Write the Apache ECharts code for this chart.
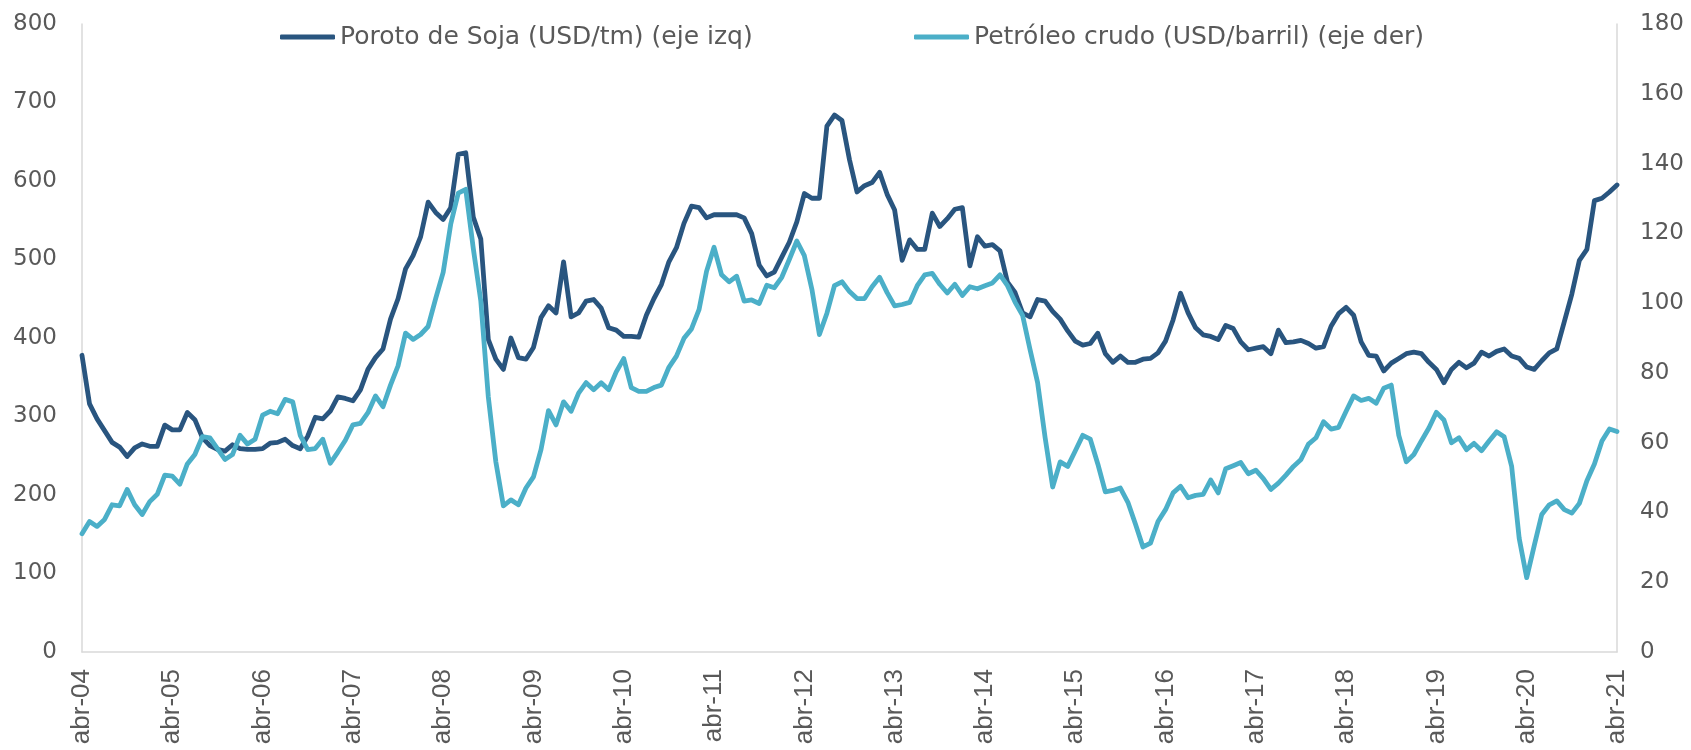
<!DOCTYPE html>
<html>
<head>
<meta charset="utf-8">
<script src="https://cdn.jsdelivr.net/npm/echarts@6/dist/echarts.min.js"></script>
<style>
html,body{margin:0;padding:0;background:#fff;}
#chart{width:1691px;height:750px;}
</style>
</head>
<body>
<div id="chart"></div>
<script>
// Month abbreviations (Spanish) and year span of the series: abr-04 .. abr-21
const monthNames = ['ene','feb','mar','abr','may','jun','jul','ago','sep','oct','nov','dic'];
const startYear = 2004, startMonth = 3, nPoints = 205;

// Poroto de Soja (USD/tm), left axis
const soja = [
  378,316,297,282,267,261,249,260,265,262,262,289,
  283,283,305,296,273,263,258,256,264,259,258,258,
  259,266,267,271,263,259,275,299,297,307,325,323,
  320,334,360,375,386,424,450,488,505,529,573,560,
  551,566,634,636,554,526,398,373,360,400,375,373,
  388,426,441,432,497,427,432,447,449,438,413,410,
  402,402,401,429,450,468,497,515,546,568,566,553,
  557,557,557,557,553,533,493,479,484,503,522,548,
  584,578,578,670,684,677,627,586,594,598,611,583,
  563,499,525,513,513,559,542,552,564,566,492,529,
  517,519,511,471,458,432,427,449,447,434,424,409,
  396,391,393,406,380,369,377,369,369,373,374,381,
  396,423,457,432,413,404,402,398,416,412,395,385,
  387,389,380,410,394,395,397,393,387,389,415,431,
  439,429,395,378,377,358,368,374,380,382,380,369,
  360,343,360,369,362,368,382,377,383,386,377,374,
  363,360,371,381,386,421,456,499,513,575,578,586,
  595
];

// Petróleo crudo (USD/barril), right axis
const petroleo = [
  33.9,37.4,36.0,38.0,42.2,41.9,46.6,42.2,39.4,43.1,45.2,50.7,
  50.4,48.1,53.9,56.6,61.7,61.4,58.3,55.2,56.6,62.1,59.6,61.0,
  67.9,69.0,68.3,72.4,71.7,62.1,58.0,58.3,61.0,54.1,57.3,60.7,
  65.1,65.5,68.6,73.4,70.3,76.5,82.0,91.4,89.6,91.0,93.3,101.3,
  108.8,122.6,131.5,132.6,115.7,100.6,73.1,54.5,41.9,43.6,42.2,47.0,
  50.2,58.0,69.2,65.1,71.7,69.0,74.2,77.2,75.2,77.2,75.2,80.3,
  84.1,75.8,74.7,74.7,75.8,76.5,81.6,84.8,89.9,92.6,98.1,109.1,
  116.0,108.1,106.1,107.7,100.6,100.9,99.9,105.1,104.4,107.4,112.5,117.8,
  113.6,104.0,91.0,97.1,105.0,106.1,103.3,101.3,101.3,104.7,107.4,103.0,
  99.2,99.6,100.2,105.0,108.1,108.5,105.4,102.9,105.4,102.2,104.7,104.1,
  105.0,105.8,108.1,105.0,100.3,96.5,86.6,77.2,61.4,47.3,54.5,53.2,
  57.6,62.1,61.0,53.9,45.9,46.3,47.0,42.9,36.7,30.1,31.2,37.4,
  40.8,45.6,47.5,44.2,44.9,45.2,49.3,45.6,52.5,53.4,54.3,51.1,
  52.1,49.7,46.6,48.4,50.7,53.2,55.2,59.6,61.4,66.0,63.9,64.4,
  69.0,73.4,72.1,72.7,71.3,75.6,76.5,62.1,54.5,56.6,60.5,64.2,
  68.7,66.5,60.0,61.4,58.0,59.8,57.7,60.5,63.1,61.7,53.2,32.6,
  21.3,30.5,39.4,42.2,43.3,40.8,39.8,42.6,49.1,53.9,60.5,63.9,
  63.2
];

const seriesNames = ['Poroto de Soja (USD/tm) (eje izq)', 'Petróleo crudo (USD/barril) (eje der)'];
const leftTicks = {min:0, max:800, interval:100};
const rightTicks = {min:0, max:180, interval:20};

const categories = [];
for (let i = 0; i < nPoints; i++) {
  const m = (startMonth + i) % 12;
  const y = startYear + Math.floor((startMonth + i) / 12);
  categories.push(monthNames[m] + '-' + String(y % 100).padStart(2, '0'));
}

const colDark = '#29557F';
const colLight = '#4BAFC8';
const txt = '#595959';
const axisCol = '#D9D9D9';

const chart = echarts.init(document.getElementById('chart'), null, {renderer:'canvas'});
chart.setOption({
  animation: false,
  backgroundColor: '#ffffff',
  grid: {left: 82, right: 74, top: 24, bottom: 98, containLabel: false},
  legend: [
    {
      data: [seriesNames[0]], left: 280, top: 22, padding: 0,
      icon: 'roundRect', itemWidth: 55, itemHeight: 5,
      textStyle: {fontFamily: 'DejaVu Sans', fontSize: 25, color: txt, lineHeight: 30}
    },
    {
      data: [seriesNames[1]], left: 914, top: 22, padding: 0,
      icon: 'roundRect', itemWidth: 55, itemHeight: 5,
      textStyle: {fontFamily: 'DejaVu Sans', fontSize: 25, color: txt, lineHeight: 30}
    }
  ],
  xAxis: {
    type: 'category',
    data: categories,
    boundaryGap: false,
    axisLine: {show: true, lineStyle: {color: axisCol, width: 1.5}},
    axisTick: {show: false},
    axisLabel: {
      rotate: 90,
      interval: function (i) { return i % 12 === 0; },
      margin: 17,
      fontFamily: 'Liberation Sans',
      fontSize: 26,
      color: txt
    },
    splitLine: {show: false}
  },
  yAxis: [
    {
      type: 'value', position: 'left',
      min: leftTicks.min, max: leftTicks.max, interval: leftTicks.interval,
      axisLine: {show: true, lineStyle: {color: axisCol, width: 1.5}},
      axisTick: {show: false},
      splitLine: {show: false},
      axisLabel: {margin: 25, fontFamily: 'DejaVu Sans', fontSize: 23, color: txt}
    },
    {
      type: 'value', position: 'right',
      min: rightTicks.min, max: rightTicks.max, interval: rightTicks.interval,
      axisLine: {show: true, lineStyle: {color: axisCol, width: 1.5}},
      axisTick: {show: false},
      splitLine: {show: false},
      axisLabel: {margin: 23, fontFamily: 'DejaVu Sans', fontSize: 23, color: txt}
    }
  ],
  series: [
    {
      name: seriesNames[0], type: 'line', yAxisIndex: 0, data: soja,
      showSymbol: false, symbol: 'none',
      lineStyle: {color: colDark, width: 4.8, cap: 'round', join: 'round'},
      itemStyle: {color: colDark}
    },
    {
      name: seriesNames[1], type: 'line', yAxisIndex: 1, data: petroleo,
      showSymbol: false, symbol: 'none',
      lineStyle: {color: colLight, width: 4.8, cap: 'round', join: 'round'},
      itemStyle: {color: colLight}
    }
  ]
});
</script>
</body>
</html>
